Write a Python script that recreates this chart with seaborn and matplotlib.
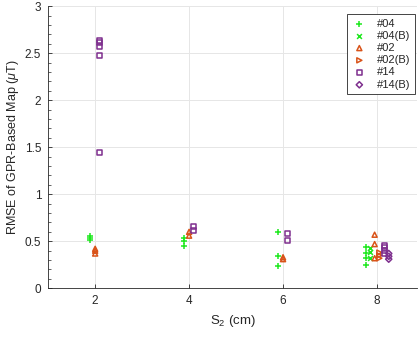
import matplotlib
matplotlib.use('Agg')
import matplotlib.pyplot as plt
import seaborn as sns
import pandas as pd
import numpy as np
from matplotlib.ticker import MultipleLocator

# values (x = S2 position incl. small offset, y = RMSE)
x_04 = [1.9, 1.9, 1.9, 3.9, 3.9, 3.9, 5.9, 5.9, 5.9, 7.76, 7.76, 7.76, 7.76]
y_04 = [0.51, 0.54, 0.56, 0.45, 0.50, 0.54, 0.60, 0.34, 0.24, 0.44, 0.38, 0.32, 0.25]

x_04b = [7.85, 7.85, 7.85]
y_04b = [0.43, 0.39, 0.32]

x_02 = [2.0, 2.0, 2.0, 4.0, 4.0, 6.0, 6.0, 7.95, 7.95, 7.95]
y_02 = [0.37, 0.40, 0.42, 0.56, 0.60, 0.31, 0.33, 0.57, 0.47, 0.32]

x_02b = [8.05, 8.05, 8.05]
y_02b = [0.32, 0.35, 0.38]

x_14 = [2.1, 2.1, 2.1, 2.1, 2.1, 4.1, 4.1, 6.1, 6.1, 8.15, 8.15, 8.15, 8.15]
y_14 = [2.64, 2.61, 2.57, 2.48, 1.44, 0.62, 0.66, 0.58, 0.51, 0.46, 0.43, 0.40, 0.37]

x_14b = [8.25, 8.25, 8.25]
y_14b = [0.37, 0.34, 0.31]

labels = ['#04', '#04(B)', '#02', '#02(B)', '#14', '#14(B)']
green = '#1ee81e'
orange = '#D95319'
purple = '#7E2F8E'

sns.set_style('white')
plt.rcParams['font.family'] = ['Liberation Sans', 'DejaVu Sans']
plt.rcParams['mathtext.fontset'] = 'custom'
plt.rcParams['mathtext.rm'] = 'Liberation Sans'
plt.rcParams['mathtext.it'] = 'Liberation Sans:italic'

fig = plt.figure(figsize=(4.19, 3.37), dpi=100)
ax = fig.add_axes([0.115, 0.1445, 0.88, 0.837])

series = [
    (x_04, y_04, '+', green, False),
    (x_04b, y_04b, 'x', green, False),
    (x_02, y_02, '^', orange, True),
    (x_02b, y_02b, '>', orange, True),
    (x_14, y_14, 's', purple, True),
    (x_14b, y_14b, 'D', purple, True),
]

for (xs, ys, mk, col, hollow), lab in zip(series, labels):
    df = pd.DataFrame({'x': xs, 'y': ys})
    if hollow:
        sns.scatterplot(data=df, x='x', y='y', marker=mk, s=13 if mk != 'D' else 10,
                        facecolors='none', edgecolor=col, linewidth=1.1, label=lab, ax=ax)
    else:
        sns.scatterplot(data=df, x='x', y='y', marker=mk, s=18 if mk == '+' else 12,
                        color=col, linewidth=1.1, label=lab, ax=ax)

ax.set_xlim(1, 8.85)
ax.set_ylim(0, 3)
ax.set_xticks([2, 4, 6, 8])
ax.set_yticks([0, 0.5, 1, 1.5, 2, 2.5, 3])
ax.set_yticklabels(['0', '0.5', '1', '1.5', '2', '2.5', '3'])
ax.yaxis.set_minor_locator(MultipleLocator(0.1))
ax.grid(True, which='major', color='#e6e6e6', linewidth=0.7)
ax.set_axisbelow(True)
ax.tick_params(axis='both', which='major', direction='in', length=3, width=0.6,
               labelsize=8.5, colors='#262626', pad=5, left=True, bottom=True)
ax.tick_params(axis='y', which='minor', direction='in', length=2, width=0.5,
               colors='#262626', left=True)
for side in ['top', 'right']:
    ax.spines[side].set_visible(False)
for side in ['left', 'bottom']:
    ax.spines[side].set_color('#262626')
    ax.spines[side].set_linewidth(0.6)

ax.set_xlabel('S$_2$ (cm)', fontsize=9.5, color='#262626', labelpad=4)
ax.set_ylabel('RMSE of GPR-Based Map ($\\mu$T)', fontsize=9, color='#262626', labelpad=3)

leg = ax.legend(loc='upper right', fontsize=8, frameon=True, fancybox=False,
                edgecolor='#262626', framealpha=1, handletextpad=0.9,
                borderpad=0.4, labelspacing=0.2, handlelength=1.4,
                borderaxespad=0, bbox_to_anchor=(0.995, 0.972))
leg.get_frame().set_linewidth(0.6)

fig.savefig('out.png', dpi=100)
